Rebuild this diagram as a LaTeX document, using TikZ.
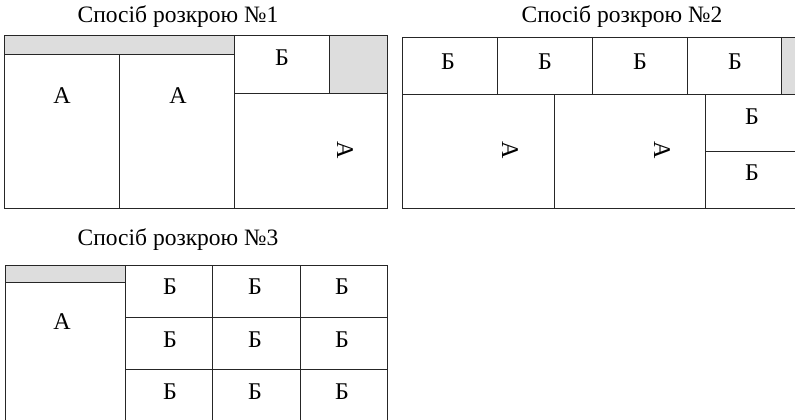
\documentclass[tikz,border=0pt]{standalone}
\usepackage{fontspec}
\setmainfont{Liberation Serif}
\usetikzlibrary{positioning}
\definecolor{wastegray}{HTML}{DDDDDD}
\tikzset{
  cut/.style={draw=black!85,line width=0.9pt},
  waste/.style={fill=wastegray},
  lbl/.style={inner sep=0pt,font=\fontsize{24}{24}\selectfont},
  lblrot/.style={lbl,rotate=-90},
  ttl/.style={inner sep=0pt,font=\fontsize{23.5}{23.5}\selectfont}
}
\begin{document}
\begin{tikzpicture}[x=1pt,y=-1pt]
  \useasboundingbox (0,0) rectangle (795,420);
  % scheme 1
  \node[ttl] (t1) at (178,17) {Спосіб розкрою №1};
  \fill[waste] (4,35) rectangle (234,54);
  \fill[waste] (329,35) rectangle (387,93);
  \draw[cut] (4,35) rectangle (387,208);
  \draw[cut] (4,54) -- (234,54);
  \draw[cut] (119,54) -- (119,208);
  \draw[cut] (234,35) -- (234,208);
  \draw[cut] (234,93) -- (387,93);
  \draw[cut] (329,35) -- (329,93);
  \node[lbl] (s1a1) at (62,96) {А};
  \node[lbl] (s1a2) at (178,96) {А};
  \node[lbl] (s1b1) at (282,58) {Б};
  \node[lblrot] (s1a3) at (345,150) {А};
  % scheme 2
  \node[ttl] (t2) at (622,17) {Спосіб розкрою №2};
  \fill[waste] (781,37) rectangle (800,94);
  \draw[cut] (800,37) -- (402,37) -- (402,208) -- (800,208);
  \draw[cut] (402,94) -- (800,94);
  \foreach \x in {497,592,687,781}
    \draw[cut] (\x,37) -- (\x,94);
  \draw[cut] (554,94) -- (554,208);
  \draw[cut] (705,94) -- (705,208);
  \draw[cut] (705,151) -- (800,151);
  \foreach \x [count=\i] in {448,545,640,735}
    \node[lbl] (s2b\i) at (\x,62) {Б};
  \node[lblrot] (s2a1) at (510,150) {А};
  \node[lblrot] (s2a2) at (662,150) {А};
  \node[lbl] (s2b5) at (752,117) {Б};
  \node[lbl] (s2b6) at (752,173) {Б};
  % scheme 3
  \node[ttl] (t3) at (178,240) {Спосіб розкрою №3};
  \fill[waste] (5,265) rectangle (125,282);
  \draw[cut] (5,430) -- (5,265) -- (387,265) -- (387,430);
  \draw[cut] (5,282) -- (125,282);
  \foreach \x in {125,212,300}
    \draw[cut] (\x,265) -- (\x,430);
  \draw[cut] (125,317) -- (387,317);
  \draw[cut] (125,369) -- (387,369);
  \node[lbl] (s3a1) at (62,322) {А};
  \foreach \y [count=\j] in {287,340,392}
    \foreach \x [count=\i] in {170,255,342}
      \node[lbl] (s3b\j\i) at (\x,\y) {Б};
\end{tikzpicture}
\end{document}
